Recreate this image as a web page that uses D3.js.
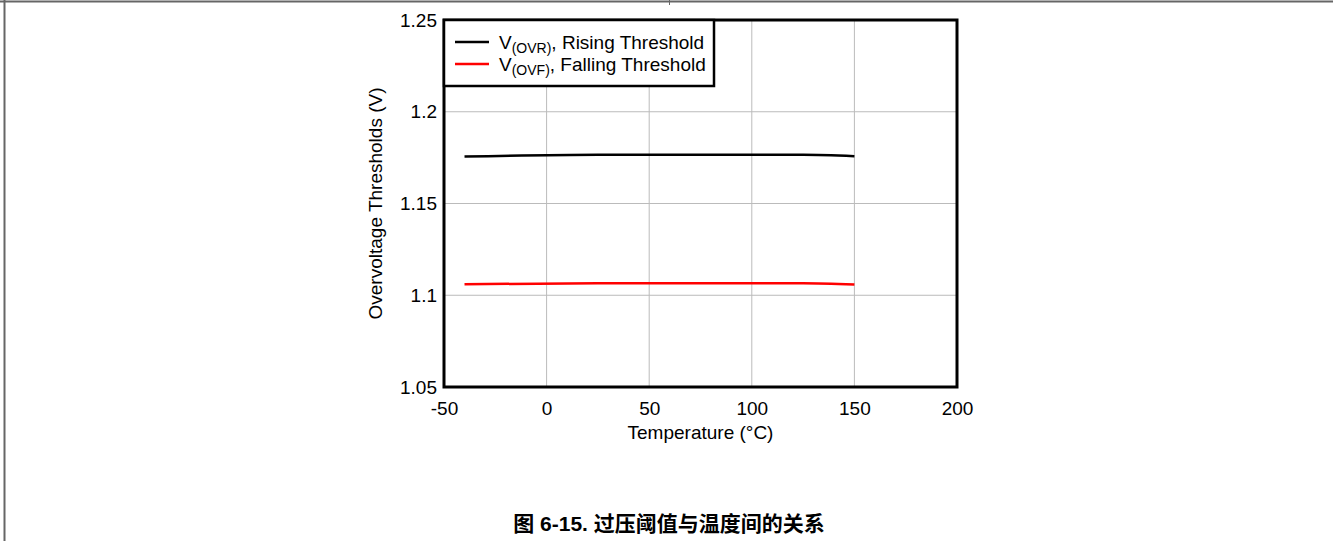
<!DOCTYPE html>
<html>
<head>
<meta charset="utf-8">
<style>
  body { margin: 0; background: #fff; }
  svg text { font-family: "Liberation Sans", Arial, sans-serif; }
</style>
</head>
<body>
<svg id="chart" width="1333" height="541"></svg>
<script src="https://d3js.org/d3.v7.min.js"></script>
<script>
    // values
    const temps = [-40, 25, 125, 150]
    const ovr = [1.1756, 1.1766, 1.1766, 1.1758]
    const ovf = [1.1060, 1.1066, 1.1066, 1.1059]
    const xTicks = [-50, 0, 50, 100, 150, 200]
    const yTicks = [1.05, 1.1, 1.15, 1.2, 1.25]
    const seriesNames = ['V(OVR), Rising Threshold', 'V(OVF), Falling Threshold']

    const svg = d3.select('#chart')
    const fs = 19

    // page frame
    svg.append('line').attr('x1', 0).attr('x2', 1333).attr('y1', 1.5).attr('y2', 1.5)
       .attr('stroke', '#666').attr('stroke-width', 2)
    svg.append('line').attr('x1', 4.5).attr('x2', 4.5).attr('y1', 0).attr('y2', 541)
       .attr('stroke', '#666').attr('stroke-width', 2)
    svg.append('line').attr('x1', 669.5).attr('x2', 669.5).attr('y1', 0).attr('y2', 5)
       .attr('stroke', '#666').attr('stroke-width', 1)

    const xScale = d3.scaleLinear().domain([-50, 200]).range([444, 957])
    const yScale = d3.scaleLinear().domain([1.05, 1.25]).range([387, 20])

    // grid
    svg.append('g').selectAll('line').data(xTicks).join('line')
       .attr('x1', d => xScale(d)).attr('x2', d => xScale(d))
       .attr('y1', yScale(1.25)).attr('y2', yScale(1.05))
       .attr('stroke', '#bbb').attr('stroke-width', 1)
    svg.append('g').selectAll('line').data(yTicks).join('line')
       .attr('x1', xScale(-50)).attr('x2', xScale(200))
       .attr('y1', d => yScale(d)).attr('y2', d => yScale(d))
       .attr('stroke', '#bbb').attr('stroke-width', 1)

    // axes labels
    const xAxis = d3.axisBottom(xScale).tickValues(xTicks).tickSize(0).tickPadding(15)
       .tickFormat(d => String(d))
    const gx = svg.append('g').attr('transform', `translate(0,${yScale(1.05)})`).call(xAxis)
    gx.select('.domain').remove()
    gx.selectAll('text').attr('font-size', fs).attr('fill', '#000')
       .style('font-family', '"Liberation Sans", Arial, sans-serif')

    const yAxis = d3.axisLeft(yScale).tickValues(yTicks).tickSize(0).tickPadding(7)
       .tickFormat(d => String(d))
    const gy = svg.append('g').attr('transform', `translate(${xScale(-50)},0)`).call(yAxis)
    gy.select('.domain').remove()
    gy.selectAll('text').attr('font-size', fs).attr('fill', '#000')
       .style('font-family', '"Liberation Sans", Arial, sans-serif')

    svg.append('text').attr('x', xScale(75)).attr('y', 439)
       .attr('text-anchor', 'middle').attr('font-size', fs).text('Temperature (°C)')
    svg.append('text')
       .attr('transform', `translate(382,${(yScale(1.05) + yScale(1.25)) / 2}) rotate(-90)`)
       .attr('text-anchor', 'middle').attr('font-size', fs).text('Overvoltage Thresholds (V)')

    // data lines
    const lineGen = d3.line().x(d => xScale(d[0])).y(d => yScale(d[1])).curve(d3.curveMonotoneX)
    const colors = ['#000', '#f00']
    ;[ovr, ovf].forEach((vals, i) => {
        svg.append('path').datum(temps.map((t, j) => [t, vals[j]]))
           .attr('d', lineGen).attr('fill', 'none')
           .attr('stroke', colors[i]).attr('stroke-width', 2.5)
    })

    // plot frame
    svg.append('rect').attr('x', xScale(-50)).attr('y', yScale(1.25))
       .attr('width', xScale(200) - xScale(-50)).attr('height', yScale(1.05) - yScale(1.25))
       .attr('fill', 'none').attr('stroke', '#000').attr('stroke-width', 3)

    // legend
    const lg = svg.append('g')
    lg.append('rect').attr('x', xScale(-50)).attr('y', yScale(1.25))
       .attr('width', 270).attr('height', 66)
       .attr('fill', '#fff').attr('stroke', '#000').attr('stroke-width', 2.5)
    seriesNames.forEach((name, i) => {
        const y = 42 + i * 22
        lg.append('line').attr('x1', 455).attr('x2', 489).attr('y1', y).attr('y2', y)
          .attr('stroke', colors[i]).attr('stroke-width', 2.5)
        const sub = name.match(/^V\((\w+)\)(.*)$/)
        const t = lg.append('text').attr('x', 499).attr('y', y + 7).attr('font-size', fs)
        t.append('tspan').text('V')
        t.append('tspan').attr('font-size', 14).attr('dy', 4).text('(' + sub[1] + ')')
        t.append('tspan').attr('dy', -4).text(sub[2])
    })

    // caption
    svg.append('text').attr('x', 669).attr('y', 531).attr('text-anchor', 'middle')
       .attr('font-size', 21).attr('font-weight', 'bold')
       .style('font-family', '"Liberation Sans", "Noto Sans CJK SC", sans-serif')
       .text('图 6-15. 过压阈值与温度间的关系')
</script>
</body>
</html>
